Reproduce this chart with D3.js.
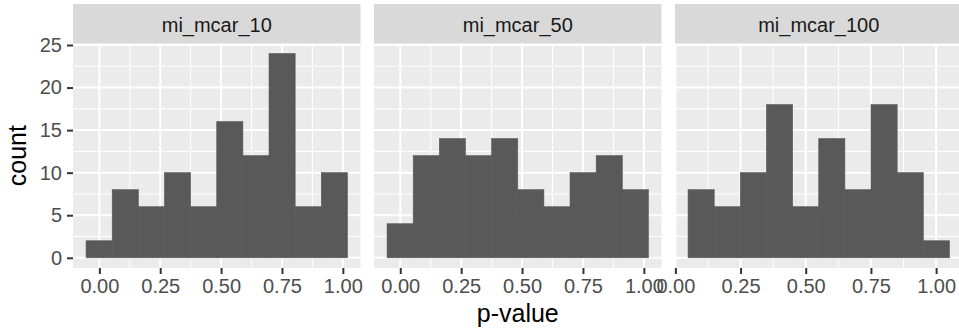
<!DOCTYPE html>
<html>
<head>
<meta charset="utf-8">
<script src="https://cdn.jsdelivr.net/npm/d3@7"></script>
<style>
  body { margin: 0; background: #ffffff; }
  svg { display: block; font-family: "Liberation Sans", Arial, Helvetica, sans-serif; }
</style>
</head>
<body>
<div id="chart"></div>
<script>
// facet names and histogram counts (10 bins each)
var panelNames = ["mi_mcar_10", "mi_mcar_50", "mi_mcar_100"];
var counts10 = [2, 8, 6, 10, 6, 16, 12, 24, 6, 10];
var counts50 = [4, 12, 14, 12, 14, 8, 6, 10, 12, 8];
var counts100 = [8, 6, 10, 18, 6, 14, 8, 18, 10, 2];
// left edge of first bin and bin width for each facet (free x scales)
var binStart = [-0.0546, -0.0542, 0.0487];
var binWidth = [0.10735, 0.1073, 0.10024];
var xTicks = [0, 0.25, 0.5, 0.75, 1];
var yTicks = [0, 5, 10, 15, 20, 25];

var allCounts = [counts10, counts50, counts100];

var width = 959,
    height = 335,
    panelLeft = 73,
    panelStep = 301,
    panelWidth = 287.5,
    stripTop = 4,
    panelTop = 43.3,
    panelBottom = 268;

var svg = d3.select("#chart")
  .append("svg")
  .attr("width", width)
  .attr("height", height);

var y = d3.scaleLinear()
  .domain([-1.2, 25.2])
  .range([panelBottom, panelTop]);

panelNames.forEach(function (name, p) {
  var counts = allCounts[p],
      lo = binStart[p],
      w = binWidth[p],
      hi = lo + w * counts.length,
      pad = (hi - lo) * 0.05,
      x0 = panelLeft + p * panelStep,
      bins,
      x,
      g;

  bins = counts.map(function (c, i) {
    return { x0: lo + i * w, x1: lo + (i + 1) * w, count: c };
  });

  x = d3.scaleLinear()
    .domain([lo - pad, hi + pad])
    .range([x0, x0 + panelWidth]);

  g = svg.append("g");

  // panel background
  g.append("rect")
    .attr("x", x0)
    .attr("y", panelTop)
    .attr("width", panelWidth)
    .attr("height", panelBottom - panelTop)
    .attr("fill", "#EBEBEB");

  // minor grid
  var xMinor = xTicks.slice(0, -1).map(function (t) { return t + 0.125; })
    .concat([-0.125, 1.125])
    .filter(function (t) { return t > x.domain()[0] && t < x.domain()[1]; });
  var yMinor = [2.5, 7.5, 12.5, 17.5, 22.5];

  g.selectAll(".xminor")
    .data(xMinor)
    .enter().append("line")
    .attr("x1", function (d) { return x(d); })
    .attr("x2", function (d) { return x(d); })
    .attr("y1", panelTop)
    .attr("y2", panelBottom)
    .attr("stroke", "#ffffff")
    .attr("stroke-width", 1);

  g.selectAll(".yminor")
    .data(yMinor)
    .enter().append("line")
    .attr("x1", x0)
    .attr("x2", x0 + panelWidth)
    .attr("y1", function (d) { return y(d); })
    .attr("y2", function (d) { return y(d); })
    .attr("stroke", "#ffffff")
    .attr("stroke-width", 1);

  // major grid
  g.selectAll(".xmajor")
    .data(xTicks)
    .enter().append("line")
    .attr("x1", function (d) { return x(d); })
    .attr("x2", function (d) { return x(d); })
    .attr("y1", panelTop)
    .attr("y2", panelBottom)
    .attr("stroke", "#ffffff")
    .attr("stroke-width", 2);

  g.selectAll(".ymajor")
    .data(yTicks)
    .enter().append("line")
    .attr("x1", x0)
    .attr("x2", x0 + panelWidth)
    .attr("y1", function (d) { return y(d); })
    .attr("y2", function (d) { return y(d); })
    .attr("stroke", "#ffffff")
    .attr("stroke-width", 2);

  // bars (thin same-colour stroke hides the seams between bins)
  g.selectAll(".bar")
    .data(bins)
    .enter().append("rect")
    .attr("x", function (d) { return x(d.x0); })
    .attr("y", function (d) { return y(d.count); })
    .attr("width", function (d) { return x(d.x1) - x(d.x0); })
    .attr("height", function (d) { return y(0) - y(d.count); })
    .attr("fill", "#595959")
    .attr("stroke", "#595959")
    .attr("stroke-width", 0.6);

  // strip
  g.append("rect")
    .attr("x", x0)
    .attr("y", stripTop)
    .attr("width", panelWidth)
    .attr("height", panelTop - stripTop)
    .attr("fill", "#D9D9D9");

  g.append("text")
    .attr("x", x0 + panelWidth / 2)
    .attr("y", 31.5)
    .attr("text-anchor", "middle")
    .attr("font-size", 20)
    .attr("fill", "#1A1A1A")
    .text(name);

  // x axis
  var xAxis = d3.axisBottom(x)
    .tickValues(xTicks)
    .tickSize(6)
    .tickPadding(5)
    .tickFormat(d3.format(".2f"));

  var ax = g.append("g")
    .attr("transform", "translate(0," + panelBottom + ")")
    .call(xAxis);

  ax.select(".domain").remove();
  ax.selectAll(".tick line")
    .attr("stroke", "#333333")
    .attr("stroke-width", 2);
  ax.selectAll(".tick text")
    .attr("font-family", "Liberation Sans, Arial, Helvetica, sans-serif")
    .attr("font-size", 20)
    .attr("fill", "#4D4D4D");
});

// y axis on the first panel
var yAxis = d3.axisLeft(y)
  .tickValues(yTicks)
  .tickSize(6)
  .tickPadding(5);

var ay = svg.append("g")
  .attr("transform", "translate(" + panelLeft + ",0)")
  .call(yAxis);

ay.select(".domain").remove();
ay.selectAll(".tick line")
  .attr("stroke", "#333333")
  .attr("stroke-width", 2);
ay.selectAll(".tick text")
  .attr("font-family", "Liberation Sans, Arial, Helvetica, sans-serif")
  .attr("font-size", 20)
  .attr("fill", "#4D4D4D");

// axis titles
svg.append("text")
  .attr("x", panelLeft + (2 * panelStep + panelWidth) / 2)
  .attr("y", 322)
  .attr("text-anchor", "middle")
  .attr("font-size", 25)
  .attr("fill", "#000000")
  .text("p-value");

svg.append("text")
  .attr("transform", "translate(26," + ((panelTop + panelBottom) / 2) + ") rotate(-90)")
  .attr("text-anchor", "middle")
  .attr("font-size", 25)
  .attr("fill", "#000000")
  .text("count");
</script>
</body>
</html>
